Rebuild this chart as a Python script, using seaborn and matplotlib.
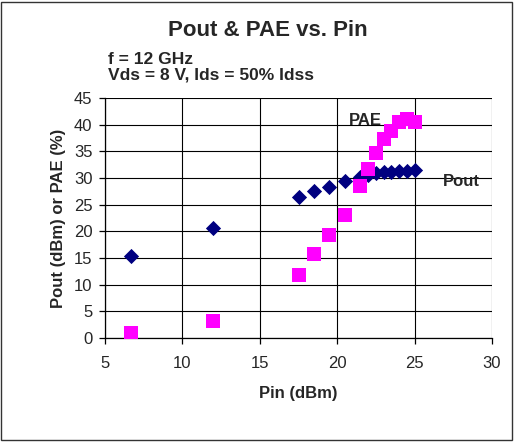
import numpy as np
import pandas as pd
import matplotlib
import matplotlib.pyplot as plt
import seaborn as sns

matplotlib.use("Agg")

# data
pin = [6.7, 12.0, 17.5, 18.5, 19.5, 20.5, 21.5, 22.0, 22.5, 23.0, 23.5, 24.0, 24.5, 25.0]
pout = [15.4, 20.7, 26.4, 27.5, 28.4, 29.4, 30.2, 30.6, 30.9, 31.1, 31.2, 31.3, 31.4, 31.5]
pae = [0.9, 3.2, 11.9, 15.7, 19.3, 23.0, 28.5, 31.7, 34.7, 37.3, 38.9, 40.5, 41.0, 40.5]

x_ticks = [5, 10, 15, 20, 25, 30]
y_ticks = [0, 5, 10, 15, 20, 25, 30, 35, 40, 45]

df = pd.DataFrame({"Pin": pin, "Pout": pout, "PAE": pae})

sns.set_style("white")
plt.rcParams["font.family"] = ["Liberation Sans", "DejaVu Sans"]

fig = plt.figure(figsize=(5.14, 4.42), dpi=100)
ax = fig.add_axes([105 / 514, 1 - 338 / 442, (492 - 105) / 514, (338 - 98) / 442])

# outer frame of the chart area
fig.patches.append(
    plt.Rectangle((0.002, 0.004), 0.994, 0.992, transform=fig.transFigure,
                  fill=False, edgecolor="#333333", linewidth=1.0)
)

sns.scatterplot(data=df, x="Pin", y="Pout", marker="D", s=60, color="#000080",
                edgecolor="#000080", linewidth=0, ax=ax, zorder=3)

ax.text(22.9, 40.7, "PAE", fontsize=12, fontweight="bold", ha="right",
        va="center", zorder=3.5)
ax.text(26.85, 29.3, "Pout", fontsize=12, fontweight="bold", ha="left",
        va="center")

sns.scatterplot(data=df, x="Pin", y="PAE", marker="s", s=95, color="#FF00FF",
                edgecolor="#FF00FF", linewidth=0, ax=ax, zorder=4)

ax.set_xlim(5, 30)
ax.set_ylim(0, 45)
ax.set_xticks(x_ticks)
ax.set_yticks(y_ticks)
ax.grid(True, color="black", linewidth=0.8)
ax.set_axisbelow(True)
for s in ["top", "right"]:
    ax.spines[s].set_visible(False)
for s in ["left", "bottom"]:
    ax.spines[s].set_color("black")
    ax.spines[s].set_linewidth(0.9)
ax.tick_params(axis="both", which="both", length=4, width=0.9, color="black",
               labelsize=12, direction="out", left=True, bottom=True)
ax.tick_params(axis="x", pad=9)
ax.tick_params(axis="y", pad=5)

ax.set_xlabel("Pin (dBm)", fontsize=12, fontweight="bold", labelpad=11)
ax.set_ylabel("Pout (dBm) or PAE (%)", fontsize=12, fontweight="bold", labelpad=6)

fig.text(268 / 514, 1 - 30 / 442, "Pout & PAE vs. Pin", fontsize=16,
         fontweight="bold", ha="center", va="center")
fig.text(108 / 514, 1 - 59 / 442, "f = 12 GHz", fontsize=12.5,
         fontweight="bold", ha="left", va="center")
fig.text(108 / 514, 1 - 75 / 442, "Vds = 8 V, Ids = 50% Idss", fontsize=12.5,
         fontweight="bold", ha="left", va="center")

ax.legend_ = None
fig.savefig("out.png", dpi=100)
